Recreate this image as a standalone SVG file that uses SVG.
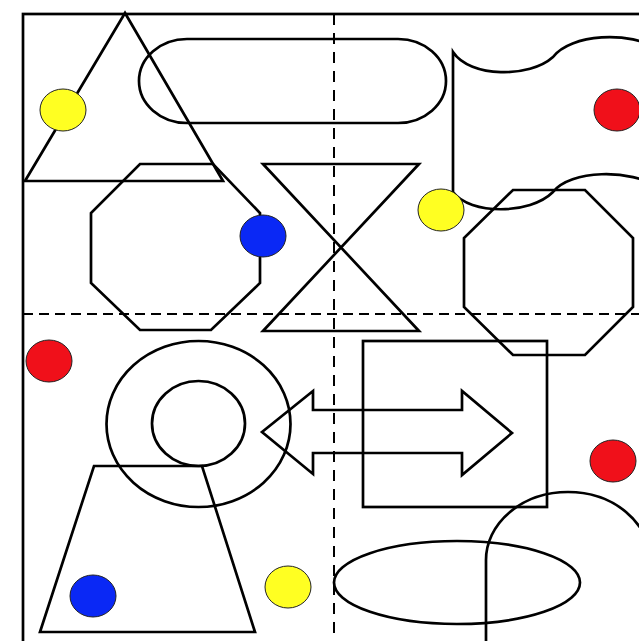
<svg xmlns="http://www.w3.org/2000/svg" width="639" height="641" viewBox="0 0 639 641">
<style>
.s{fill:none;stroke:#000;stroke-width:2.7;stroke-linejoin:miter}
.d{fill:none;stroke:#000;stroke-width:2}
.dot{stroke:#222;stroke-width:1}
.y{fill:#ffff22}.r{fill:#f0101a}.b{fill:#0a28f5}
</style>
<rect width="639" height="641" fill="#fff"/>
<g id="frame">
<rect class="s" x="23" y="14" width="700" height="700" stroke-width="3"/>
<line class="d" x1="334" y1="14" x2="334" y2="641" stroke-dasharray="11 8"/>
<line class="d" x1="23" y1="314" x2="639" y2="314" stroke-dasharray="10 6"/>
</g>
<g id="shapes">
<g id="triangle"><polygon class="s" points="125,13 25,181 223,181"/></g>
<g id="stadium"><rect class="s" x="139" y="39" width="307" height="84" rx="48" ry="42"/></g>
<g id="flag"><path class="s" d="M453,52 L453,192 C470,215 530,215 553,192 C570,170 630,168 660,188 L660,50 C630,30 570,34 553,57 C530,78 470,78 453,52 Z"/></g>
<g id="octagon-left"><polygon class="s" points="140,164 213,164 260,213 260,283 211,330 140,330 91,283 91,213"/></g>
<g id="hourglass"><polygon class="s" points="263,164 419,164 263,331 419,331"/></g>
<g id="octagon-right"><polygon class="s" points="513,190 585,190 633,238 633,307 585,355 513,355 464,307 464,238"/></g>
<g id="ring"><ellipse class="s" cx="198.5" cy="424" rx="92" ry="83"/><ellipse class="s" cx="198.5" cy="423.5" rx="46.5" ry="42.5"/></g>
<g id="trapezoid"><polygon class="s" points="94,466 202,466 255,632 40,632"/></g>
<g id="square"><rect class="s" x="363" y="341" width="184" height="166"/></g>
<g id="double-arrow"><polygon class="s" points="262,432 313,391 313,410 462,410 462,391 512,433 462,475 462,453 313,453 313,474"/></g>
<g id="ellipse"><ellipse class="s" cx="457" cy="582.5" rx="123" ry="41.5"/></g>
<g id="arch"><path class="s" d="M486,660 L486,560 A82,68 0 0 1 650,560 L650,660"/></g>
</g>
<g id="dots">
<ellipse class="dot y" cx="63" cy="110" rx="23" ry="21"/>
<ellipse class="dot b" cx="263" cy="236" rx="23" ry="21"/>
<ellipse class="dot r" cx="617" cy="110" rx="23" ry="21"/>
<ellipse class="dot y" cx="441" cy="210" rx="23" ry="21"/>
<ellipse class="dot r" cx="49" cy="361" rx="23" ry="21"/>
<ellipse class="dot b" cx="93" cy="596" rx="23" ry="21"/>
<ellipse class="dot y" cx="288" cy="587" rx="23" ry="21"/>
<ellipse class="dot r" cx="613" cy="461" rx="23" ry="21"/>
</g>
</svg>
